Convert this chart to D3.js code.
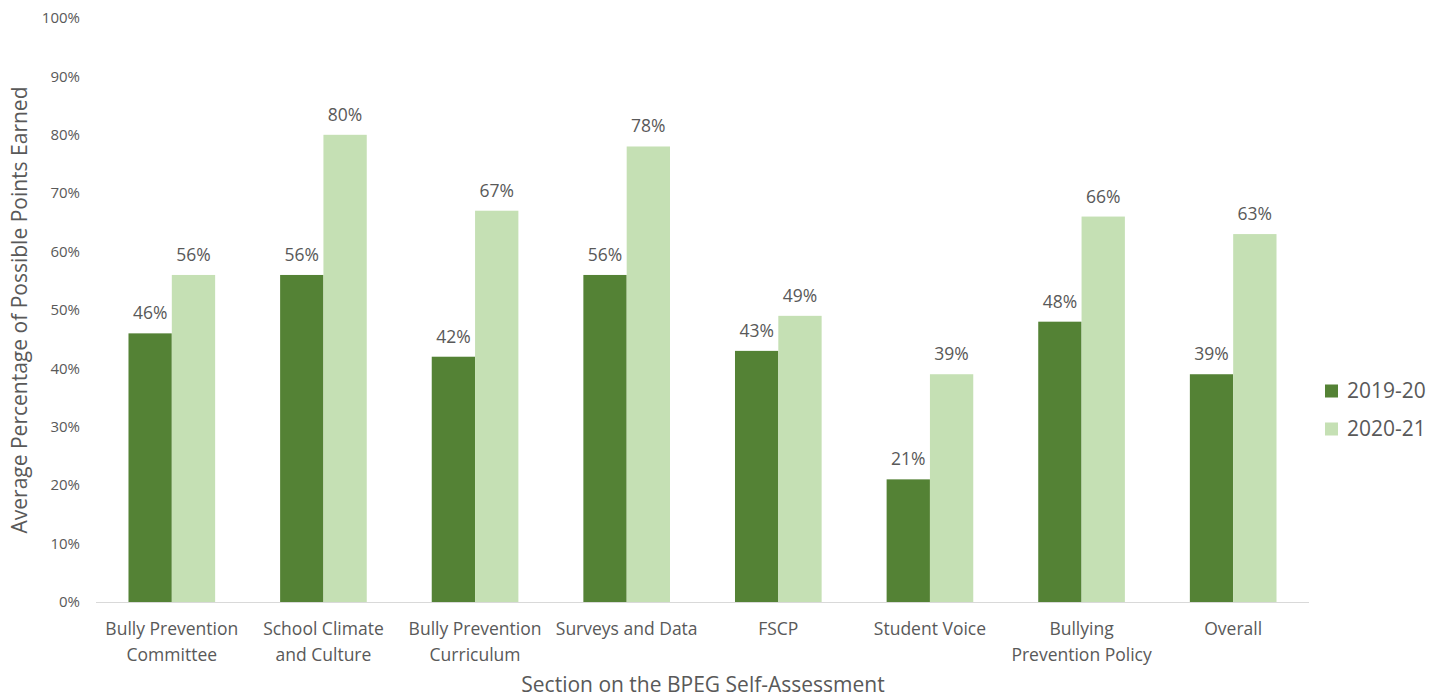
<!DOCTYPE html>
<html><head><meta charset="utf-8">
<script src="https://cdn.jsdelivr.net/npm/d3@7"></script>
<style>body{margin:0;background:#fff}text{font-family:"Open Sans",Lato,sans-serif;fill:#595959}</style>
</head><body><svg id="c" width="1447" height="698"></svg>
<script>
const categories = [["Bully Prevention","Committee"],["School Climate","and Culture"],["Bully Prevention","Curriculum"],["Surveys and Data"],["FSCP"],["Student Voice"],["Bullying","Prevention Policy"],["Overall"]];
const series = ["2019-20","2020-21"];
const values2019 = [46,56,42,56,43,21,48,39];
const values2020 = [56,80,67,78,49,39,66,63];
const yTicks = [0,10,20,30,40,50,60,70,80,90,100];
const colors = ["#548235","#C5E0B4"];

const svg = d3.select("#c");
const x = d3.scaleBand().domain(d3.range(categories.length)).range([96,1309]).paddingInner(0.4286).paddingOuter(0.2143);
const x1 = d3.scaleBand().domain(series).range([0,x.bandwidth()]);
const y = d3.scaleLinear().domain([0,100]).range([602,18]);

svg.append("g").selectAll("text").data(yTicks).join("text")
  .attr("x",80).attr("y",d=>y(d)).attr("dy","0.35em").attr("text-anchor","end")
  .style("font-size","15px").text(d=>d+"%");

svg.append("line").attr("x1",x.range()[0]).attr("x2",x.range()[1]).attr("y1",y(0)+0.5).attr("y2",y(0)+0.5)
  .attr("stroke","#d9d9d9").attr("stroke-width",1);

const data = [values2019, values2020];
data.forEach((vals,si)=>{
  const g = svg.append("g");
  g.selectAll("rect").data(vals).join("rect")
    .attr("x",(d,i)=>x(i)+x1(series[si])).attr("width",x1.bandwidth())
    .attr("y",d=>y(d)).attr("height",d=>y(0)-y(d)).attr("fill",colors[si]);
  g.selectAll("text").data(vals).join("text")
    .attr("x",(d,i)=>x(i)+x1(series[si])+x1.bandwidth()/2).attr("y",d=>y(d)-14)
    .attr("text-anchor","middle").style("font-size","17.5px").text(d=>d+"%");
});

const cl = svg.append("g").selectAll("text").data(categories).join("text")
  .attr("x",(d,i)=>x(i)+x.bandwidth()/2).attr("y",635).attr("text-anchor","middle").style("font-size","17.5px");
cl.each(function(d,i){
  const t=d3.select(this);
  d.forEach((line,j)=>t.append("tspan").attr("x",x(i)+x.bandwidth()/2).attr("y",635+j*26).text(line));
});

svg.append("text").attr("transform","translate(27,310) rotate(-90)").attr("text-anchor","middle")
  .style("font-size","21px").text("Average Percentage of Possible Points Earned");
svg.append("text").attr("x",703).attr("y",692).attr("text-anchor","middle")
  .style("font-size","21px").text("Section on the BPEG Self-Assessment");

const lg = svg.append("g").selectAll("g").data(series).join("g")
  .attr("transform",(d,i)=>`translate(1325,${391+i*38})`);
lg.append("rect").attr("x",0).attr("y",-6.5).attr("width",13).attr("height",13).attr("fill",(d,i)=>colors[i]);
lg.append("text").attr("x",22).attr("y",0).attr("dy","0.35em").style("font-size","21px").text(d=>d);
</script></body></html>
